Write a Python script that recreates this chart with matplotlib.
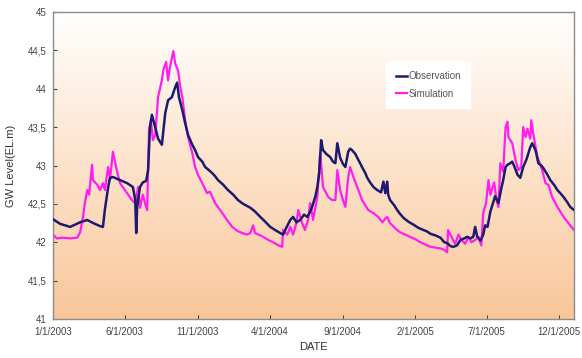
import numpy as np
import pandas as pd
import matplotlib
matplotlib.use("Agg")
import matplotlib.pyplot as plt
import matplotlib.dates as mdates
from matplotlib.ticker import FuncFormatter
from matplotlib.colors import LinearSegmentedColormap

# 観測値（2003-01-01からの経過日数, 地下水位）
obs_days = [0, 15, 36, 57, 72, 88, 99, 105, 109, 116, 120, 126, 141, 156, 168, 173, 175, 177,
            183, 189, 196, 200, 204, 208, 215, 221, 229, 236, 242, 250, 257, 261, 265, 272,
            278, 284, 293, 299, 305, 314, 320, 326, 335, 341, 347, 358, 368, 379, 389, 400,
            415, 425, 436, 446, 457, 467, 478, 484, 490, 499, 505, 512, 520, 528, 535, 541,
            545, 552, 556, 560, 564, 568, 575, 583, 589, 594, 598, 604, 610, 615, 621, 625,
            629, 636, 640, 646, 650, 657, 661, 667, 674, 682, 690, 695, 699, 703, 705, 709,
            718, 724, 730, 737, 747, 758, 768, 779, 787, 794, 804, 815, 823, 829, 836, 842,
            850, 857, 865, 871, 878, 884, 888, 892, 899, 905, 909, 914, 920, 926, 930, 937,
            943, 947, 952, 956, 962, 966, 971, 977, 983, 989, 996, 1000, 1004, 1008, 1015,
            1021, 1027, 1031, 1040, 1046, 1055, 1061, 1067, 1074, 1082, 1088, 1096]
obs_level = [42.30, 42.24, 42.20, 42.26, 42.29, 42.24, 42.21, 42.20, 42.42, 42.72, 42.84, 42.85,
             42.81, 42.77, 42.72, 42.55, 42.12, 42.46, 42.72, 42.78, 42.80, 42.94, 43.50, 43.66,
             43.50, 43.35, 43.27, 43.68, 43.85, 43.89, 44.02, 44.08, 43.89, 43.72, 43.55, 43.40,
             43.27, 43.20, 43.11, 43.05, 42.98, 42.95, 42.90, 42.86, 42.81, 42.75, 42.68, 42.62,
             42.55, 42.50, 42.45, 42.40, 42.33, 42.27, 42.20, 42.16, 42.12, 42.10, 42.18, 42.29,
             42.33, 42.26, 42.29, 42.36, 42.33, 42.40, 42.46, 42.60, 42.72, 42.90, 43.33, 43.20,
             43.15, 43.11, 43.05, 43.03, 43.29, 43.10, 43.02, 42.98, 43.18, 43.22, 43.20, 43.15,
             43.10, 43.03, 42.98, 42.90, 42.84, 42.78, 42.72, 42.68, 42.65, 42.79, 42.64, 42.79,
             42.62, 42.55, 42.48, 42.42, 42.37, 42.32, 42.27, 42.23, 42.19, 42.16, 42.14, 42.11,
             42.09, 42.06, 42.00, 41.99, 41.95, 41.94, 41.96, 42.03, 42.05, 42.07, 42.05, 42.07,
             42.20, 42.08, 42.02, 42.10, 42.22, 42.20, 42.40, 42.52, 42.60, 42.51, 42.70, 42.81,
             42.98, 43.01, 43.03, 43.05, 42.98, 42.88, 42.84, 42.98, 43.08, 43.16, 43.24, 43.29,
             43.20, 43.03, 43.00, 42.97, 42.88, 42.81, 42.74, 42.68, 42.64, 42.59, 42.52, 42.46,
             42.42]

# 計算値
sim_days = [0, 8, 21, 36, 51, 57, 63, 67, 72, 76, 82, 84, 93, 99, 105, 109, 116, 120, 126, 133,
            141, 149, 156, 166, 173, 179, 183, 189, 194, 198, 202, 206, 210, 215, 221, 229, 232,
            238, 242, 246, 253, 257, 263, 267, 272, 278, 284, 293, 299, 305, 314, 324, 330, 341,
            356, 366, 377, 387, 398, 408, 415, 421, 425, 436, 442, 453, 463, 474, 482, 484, 493,
            499, 505, 512, 516, 524, 530, 537, 541, 547, 556, 562, 568, 579, 587, 594, 598, 604,
            610, 615, 621, 625, 632, 640, 646, 650, 657, 663, 674, 684, 693, 699, 703, 709, 714,
            722, 730, 741, 751, 762, 773, 783, 794, 804, 815, 823, 829, 831, 840, 846, 853, 859,
            867, 874, 880, 888, 895, 901, 905, 911, 916, 920, 924, 928, 933, 937, 941, 947, 952,
            956, 958, 966, 973, 979, 985, 989, 994, 998, 1004, 1006, 1010, 1019, 1029, 1036,
            1042, 1050, 1061, 1074, 1088, 1096]
sim_level = [42.10, 42.05, 42.06, 42.05, 42.06, 42.13, 42.33, 42.51, 42.68, 42.62, 43.01, 42.81,
             42.75, 42.68, 42.77, 42.68, 42.98, 42.82, 43.18, 42.97, 42.77, 42.70, 42.64, 42.55,
             42.51, 42.72, 42.45, 42.62, 42.50, 42.42, 43.46, 43.59, 43.33, 43.40, 43.89, 44.11,
             44.24, 44.35, 44.11, 44.28, 44.49, 44.33, 44.24, 44.05, 43.89, 43.59, 43.37, 43.16,
             42.98, 42.88, 42.77, 42.64, 42.66, 42.51, 42.38, 42.29, 42.20, 42.15, 42.12, 42.10,
             42.12, 42.22, 42.12, 42.09, 42.07, 42.03, 42.00, 41.96, 41.94, 42.16, 42.10, 42.20,
             42.10, 42.25, 42.42, 42.25, 42.16, 42.30, 42.51, 42.29, 42.59, 43.16, 42.72, 42.59,
             42.55, 42.55, 42.94, 42.68, 42.55, 42.46, 42.85, 42.98, 42.85, 42.72, 42.62, 42.55,
             42.48, 42.42, 42.38, 42.33, 42.26, 42.31, 42.33, 42.25, 42.22, 42.17, 42.13, 42.10,
             42.07, 42.04, 42.00, 41.97, 41.94, 41.93, 41.92, 41.90, 41.87, 42.16, 42.05, 41.98,
             42.10, 42.03, 41.98, 42.07, 42.00, 42.03, 42.07, 41.96, 42.38, 42.51, 42.81, 42.62,
             42.70, 42.78, 42.55, 42.46, 43.03, 42.92, 43.50, 43.57, 43.37, 43.29, 43.07, 42.94,
             42.98, 43.50, 43.37, 43.48, 43.35, 43.59, 43.42, 43.11, 42.94, 42.77, 42.75, 42.59,
             42.46, 42.33, 42.22, 42.16]

tick_dates = ["2003-01-01", "2003-06-01", "2003-11-01", "2004-04-01",
              "2004-09-01", "2005-02-01", "2005-07-01", "2005-12-01"]
y_ticks = [41, 41.5, 42, 42.5, 43, 43.5, 44, 44.5, 45]

start = pd.Timestamp("2003-01-01")
obs_dates = start + pd.to_timedelta(obs_days, unit="D")
sim_dates = start + pd.to_timedelta(sim_days, unit="D")

plt.rcParams["font.family"] = ["Liberation Sans", "DejaVu Sans"]

fig = plt.figure(figsize=(5.82, 3.58), dpi=100)
ax = fig.add_axes([0.0911, 0.1089, 0.8952, 0.8576])

# 背景のグラデーション（上：白 → 下：オレンジ）
cmap = LinearSegmentedColormap.from_list("bg", ["#ffffff", "#fde3cb", "#f9c69a"])
grad = np.linspace(0, 1, 256).reshape(-1, 1)
ax.imshow(grad, cmap=cmap, aspect="auto", extent=[0, 1, 0, 1],
          transform=ax.transAxes, zorder=0, origin="upper")

ax.plot(obs_dates, obs_level, color="#1c1a6e", lw=1.8, label="Observation", zorder=3)
ax.plot(sim_dates, sim_level, color="#ff1ef0", lw=1.6, label="Simulation", zorder=2)

ax.set_xlim(pd.Timestamp("2003-01-01"), pd.Timestamp("2006-01-01"))
ax.set_ylim(41, 45)
ax.set_yticks(y_ticks)
ax.yaxis.set_major_formatter(FuncFormatter(lambda v, p: f"{v:g}".replace(".", ",")))
ax.set_xticks(pd.to_datetime(tick_dates))
ax.xaxis.set_major_formatter(FuncFormatter(
    lambda v, p: (lambda d: f"{d.month}/{d.day}/{d.year}")(mdates.num2date(v))))

ax.tick_params(axis="y", direction="in", length=3, labelsize=7, colors="#444444", width=0.8, pad=5)
ax.tick_params(axis="x", direction="in", length=3, labelsize=7, colors="#444444", width=0.8, pad=6)
for s in ax.spines.values():
    s.set_color("#8c8c8c")
    s.set_linewidth(1.0)

ax.set_xlabel("DATE", fontsize=8, color="#333333", labelpad=3)
ax.set_ylabel("GW Level(EL.m)", fontsize=8, color="#333333", labelpad=8)

leg = ax.legend(loc="center", bbox_to_anchor=(0.72, 0.762), fontsize=7, frameon=True,
                handlelength=1.2, handletextpad=0.1, borderpad=0.7, labelspacing=0.75)
leg.get_frame().set_edgecolor("white")
leg.get_frame().set_facecolor("white")
leg.get_frame().set_alpha(1.0)
leg.get_frame().set_boxstyle("square")
for t in leg.get_texts():
    t.set_color("#555555")

fig.savefig("out.png", dpi=100)
